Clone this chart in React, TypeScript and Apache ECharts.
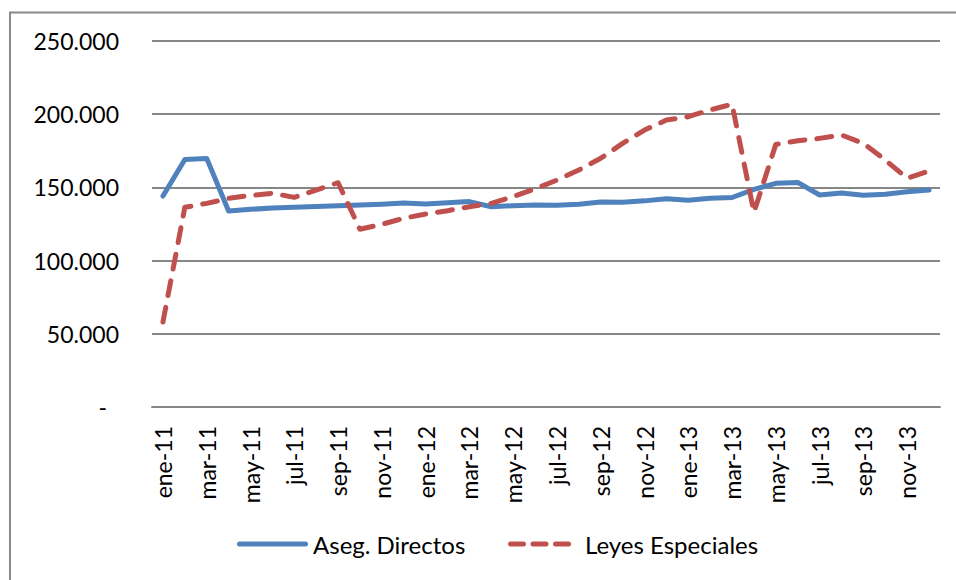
import React, { useEffect, useRef } from "react";
import * as echarts from "echarts";

const months = ["ene", "feb", "mar", "abr", "may", "jun", "jul", "ago", "sep", "oct", "nov", "dic"];
const years = ["11", "12", "13"];
const categories: string[] = years.flatMap((y) => months.map((m) => `${m}-${y}`));

const asegDirectos = [
  144100, 169000, 169800, 133900, 135000, 136000, 136500, 137000, 137500, 138000, 138500, 139300,
  138700, 139500, 140300, 136800, 137500, 138000, 137800, 138500, 140000, 139900, 140800, 142300,
  141200, 142600, 143100, 148700, 152800, 153400, 144800, 146200, 144600, 145300, 147000, 148200,
];

const leyesEspeciales = [
  58000, 136400, 139100, 142500, 144500, 146000, 143200, 148200, 153200, 121400, 124800, 128900,
  131800, 134100, 136800, 139100, 143700, 149000, 155000, 161900, 169900, 180100, 189200, 196000,
  198300, 202900, 206800, 133000, 179400, 181900, 183500, 185800, 180100, 168700, 156200, 161200,
];

const seriesNames = ["Aseg. Directos", "Leyes Especiales"];
const yTicks = { min: 0, max: 250000, interval: 50000 };

const FONT = "Lato";
const BLUE = "#4F81BD";
const RED = "#C0504D";

const solidIcon = "path://M2.5,0 H68.5 A2.5,2.5 0 0 1 68.5,5 H2.5 A2.5,2.5 0 0 1 2.5,0 Z";
const dashIcon =
  "path://M2.5,0 H15.5 A2.5,2.5 0 0 1 15.5,5 H2.5 A2.5,2.5 0 0 1 2.5,0 Z " +
  "M25,0 H38 A2.5,2.5 0 0 1 38,5 H25 A2.5,2.5 0 0 1 25,0 Z " +
  "M47.5,0 H60.5 A2.5,2.5 0 0 1 60.5,5 H47.5 A2.5,2.5 0 0 1 47.5,0 Z";

function fmt(v: number): string {
  if (v === 0) return "{z|-}";
  return Math.round(v).toString().replace(/\B(?=(\d{3})+(?!\d))/g, ".");
}

const legendText = { fontFamily: FONT, fontSize: 24, color: "#000" };

export default function App() {
  const ref = useRef<HTMLDivElement>(null);
  useEffect(() => {
    if (!ref.current) return;
    const chart = echarts.init(ref.current, null, { renderer: "svg" });
    chart.setOption({
      animation: false,
      backgroundColor: "#ffffff",
      textStyle: { fontFamily: FONT },
      grid: { left: 152, right: 16, top: 41, bottom: 173, containLabel: false },
      graphic: [
        {
          type: "rect",
          shape: { x: 10, y: 12.5, width: 1000, height: 600 },
          style: { fill: "none", stroke: "#8a8a8a", lineWidth: 2 },
          silent: true,
        },
      ],
      legend: [
        {
          left: 232,
          top: 527,
          itemWidth: 71,
          itemHeight: 5,
          textStyle: legendText,
          data: [{ name: seriesNames[0], icon: solidIcon }],
        },
        {
          left: 503,
          top: 527,
          itemWidth: 63,
          itemHeight: 5,
          itemGap: 0,
          textStyle: { ...legendText, padding: [0, 0, 0, 9] },
          data: [{ name: seriesNames[1], icon: dashIcon }],
        },
      ],
      xAxis: {
        type: "category",
        data: categories,
        boundaryGap: true,
        axisLine: { lineStyle: { color: "#868686", width: 2 } },
        axisTick: { show: false },
        axisLabel: {
          rotate: 90,
          interval: 1,
          margin: 19,
          fontFamily: FONT,
          fontSize: 23,
          color: "#000",
        },
        splitLine: { show: false },
      },
      yAxis: {
        type: "value",
        min: yTicks.min,
        max: yTicks.max,
        interval: yTicks.interval,
        axisLine: { show: false },
        axisTick: { show: false },
        axisLabel: {
          margin: 33,
          fontFamily: FONT,
          fontSize: 23,
          color: "#000",
          formatter: (v: number) => fmt(v),
          rich: { z: { fontFamily: FONT, fontSize: 23, color: "#000", padding: [0, 12, 0, 0] } },
        },
        splitLine: { lineStyle: { color: "#868686", width: 2 } },
      },
      series: [
        {
          name: seriesNames[0],
          type: "line",
          data: asegDirectos,
          symbol: "none",
          lineStyle: { color: BLUE, width: 5, cap: "round", join: "round" },
          itemStyle: { color: BLUE },
          z: 2,
        },
        {
          name: seriesNames[1],
          type: "line",
          data: leyesEspeciales,
          symbol: "none",
          lineStyle: { color: RED, width: 5, type: [15, 12], cap: "round", join: "round" },
          itemStyle: { color: RED },
          z: 3,
        },
      ],
    });
    return () => chart.dispose();
  }, []);
  return (
    <div
      ref={ref}
      style={{ position: "absolute", left: 0, top: 0, width: 956, height: 580, background: "#fff" }}
    />
  );
}
